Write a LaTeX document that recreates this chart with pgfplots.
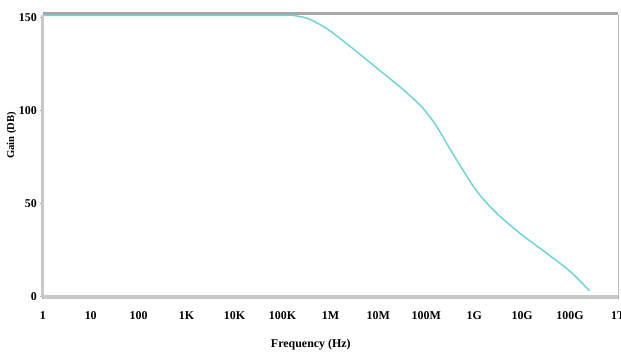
\documentclass[border=0pt]{standalone}
\usepackage{pgfplots}
\pgfplotsset{compat=1.18}
\usepackage{fontspec}
\setmainfont{Liberation Serif}
\usetikzlibrary{calc}
\definecolor{curve}{HTML}{6ED3D3}
\definecolor{axgray}{HTML}{C8C8C8}
\definecolor{topgray}{HTML}{A8A8A8}
\begin{document}
\begin{tikzpicture}[x=0.75pt,y=0.75pt]
\begin{axis}[
  name=ax,
  scale only axis,
  width=433.5pt, height=212.25pt,
  xmode=log, xmin=1, xmax=1e12,
  ymin=0, ymax=151.2,
  xtick={1,10,100,1e3,1e4,1e5,1e6,1e7,1e8,1e9,1e10,1e11,1e12},
  xticklabels={1,10,100,1K,10K,100K,1M,10M,100M,1G,10G,100G,1T},
  ytick={0,50,100,150},
  minor xtick={}, log basis x=10,
  xtick pos=bottom, ytick pos=left,
  axis line style={draw=none},
  tick style={draw=gray!70, line width=0.5pt},
  xtick align=outside, ytick align=outside,
  major tick length=2pt,
  tick label style={font=\bfseries\small},
  /pgf/number format/assume math mode=true,
  xticklabel style={yshift=-6pt},
  yticklabel style={xshift=1pt},
  clip=false,
]
\addplot[color=curve, line width=1.1pt, smooth, tension=0.5] coordinates {
(1,151) (1e3,151) (1e5,151) (1.6e5,151) (3.16e5,149.5) (5.62e5,146.5) (1e6,142.5)
(3.16e6,132.5) (1e7,122) (3.16e7,111.5) (7.94e7,102) (1.58e8,92)
(3.16e8,79) (6.31e8,66.5) (1.26e9,55) (3.16e9,44)
(1e10,33) (3.16e10,23.5) (1e11,13.5) (2.57e11,3)
};
\end{axis}
\draw[axgray, line width=2.2pt] (ax.south west) -- (ax.north west);
\draw[gray!55, line width=0.6pt] (ax.south east) -- (ax.north east);
\draw[topgray, line width=2.4pt] ($(ax.north west)+(0,1pt)$) -- ($(ax.north east)+(0,1pt)$);
\draw[axgray, line width=3pt] (ax.south west) -- (ax.south east);
\node[rotate=90, font=\bfseries\footnotesize] at ($(ax.south west)!0.572!(ax.north west)+(-23.5pt,0)$) {Gain (DB)};
\node[font=\bfseries\small] at ($(ax.south west)!0.466!(ax.south east)+(0,-36pt)$) {Frequency (Hz)};
\pgfresetboundingbox
\path ($(ax.south west)+(-32.25pt,-50.25pt)$) rectangle ($(ax.north east)+(2.25pt,11.25pt)$);
\end{tikzpicture}
\end{document}
